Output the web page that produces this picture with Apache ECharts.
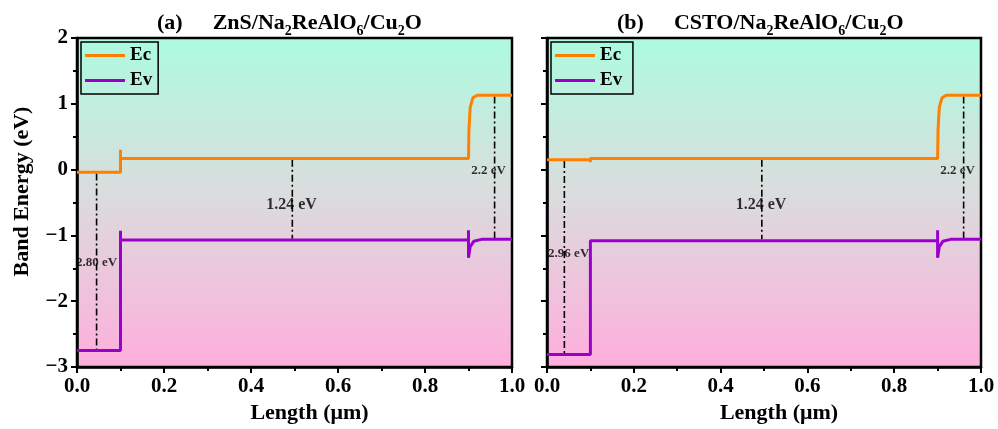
<!DOCTYPE html>
<html><head><meta charset="utf-8">
<script src="https://cdn.jsdelivr.net/npm/echarts@6/dist/echarts.min.js"></script>
<style>html,body{margin:0;padding:0;background:#fff}#c{width:998px;height:429px}</style>
</head><body><div id="c"></div>
<script>
// ---- data ----
const ecA = [[0,-0.04],[0.1,-0.04],[0.1,0.30],[0.1,0.17],[0.9,0.17],[0.901,0.6],[0.904,0.95],[0.91,1.09],[0.92,1.13],[1.0,1.13]];
const evA = [[0,-2.75],[0.1,-2.75],[0.1,-0.93],[0.1,-1.07],[0.9,-1.07],[0.9,-0.92],[0.9,-1.34],[0.904,-1.17],[0.912,-1.09],[0.93,-1.06],[1.0,-1.06]];
const ecB = [[0,0.15],[0.1,0.15],[0.1,0.11],[0.1,0.17],[0.9,0.17],[0.901,0.6],[0.904,0.95],[0.91,1.09],[0.92,1.13],[1.0,1.13]];
const evB = [[0,-2.81],[0.1,-2.81],[0.1,-1.08],[0.9,-1.08],[0.9,-0.92],[0.9,-1.34],[0.904,-1.17],[0.912,-1.09],[0.93,-1.06],[1.0,-1.06]];
// gap annotations: [x, yTop, yBottom, labelX, labelY, label]
const gapsA = [[0.045,-0.06,-2.73,0.045,-1.42,'2.80 eV'],[0.495,0.15,-1.05,0.493,-0.53,'1.24 eV'],[0.96,1.11,-1.04,0.946,-0.02,'2.2 eV']];
const gapsB = [[0.04,0.13,-2.79,0.05,-1.28,'2.96 eV'],[0.495,0.15,-1.06,0.493,-0.53,'1.24 eV'],[0.96,1.11,-1.04,0.946,-0.02,'2.2 eV']];
const xTicks = ['0.0','0.2','0.4','0.6','0.8','1.0'];
const yTicks = {'2':'2','1':'1','0':'0','-1':'\u22121','-2':'\u22122','-3':'\u22123'};

const FONT = 'Liberation Serif';
const ORANGE = '#FF8000', PURPLE = '#9A00CC';
const bg = {type:'linear',x:0,y:0,x2:0,y2:1,colorStops:[
  {offset:0,color:'#ACFBE0'},{offset:0.45,color:'#D9DEDD'},{offset:1,color:'#FFAEDC'}]};

function xAxis(i){return {type:'value',gridIndex:i,min:0,max:1,interval:0.2,
  axisLine:{show:true,onZero:false,lineStyle:{color:'#000',width:2.5}},
  axisTick:{show:true,length:6,lineStyle:{color:'#000',width:2}},
  minorTick:{show:true,splitNumber:2,length:4,lineStyle:{color:'#000',width:2}},
  splitLine:{show:false},
  axisLabel:{color:'#000',fontFamily:FONT,fontWeight:'bold',fontSize:21,margin:9,formatter:v=>xTicks[Math.round(v*5)]},
  name:'Length (\u03bcm)',nameLocation:'middle',nameGap:35,
  nameTextStyle:{color:'#000',fontFamily:FONT,fontWeight:'bold',fontSize:22,padding:[0,0,0,30]}};}
function yAxis(i,labels){return {type:'value',gridIndex:i,min:-3,max:2,interval:1,
  axisLine:{show:true,onZero:false,lineStyle:{color:'#000',width:2.5}},
  axisTick:{show:true,length:6,lineStyle:{color:'#000',width:2}},
  minorTick:{show:true,splitNumber:2,length:4,lineStyle:{color:'#000',width:2}},
  splitLine:{show:false},
  axisLabel:{show:labels,color:'#000',fontFamily:FONT,fontWeight:'bold',fontSize:21,margin:9,formatter:v=>yTicks[String(Math.round(v))]},
  name:labels?'Band Energy (eV)':'',nameLocation:'middle',nameGap:44,
  nameTextStyle:{color:'#000',fontFamily:FONT,fontWeight:'bold',fontSize:22,padding:[0,0,0,22]}};}

function lineSeries(name,data,color,i){return {type:'line',name,data,xAxisIndex:i,yAxisIndex:i,
  showSymbol:false,symbol:'none',lineStyle:{color,width:3},itemStyle:{color},z:5,animation:false};}

function gapSeries(gaps,i){
  const out=[];
  gaps.forEach(g=>{
    out.push({type:'line',data:[[g[0],g[1]],[g[0],g[2]]],xAxisIndex:i,yAxisIndex:i,symbol:'none',
      lineStyle:{color:'#000',width:1.6,type:[7,3,2,3]},z:3,animation:false,silent:true});
  });
  out.push({type:'scatter',xAxisIndex:i,yAxisIndex:i,symbolSize:0,z:6,animation:false,
    data:gaps.map(g=>({value:[g[3],g[4]],label:{show:true,position:'inside',formatter:g[5],
      fontFamily:FONT,fontWeight:'bold',fontSize:g[5]==='1.24 eV'?16:13,color:'#000'}}))});
  return out;
}

const rich = {n:{fontFamily:FONT,fontWeight:'bold',fontSize:22,color:'#000'},
  s:{fontFamily:FONT,fontWeight:'bold',fontSize:14,color:'#000',padding:[16,0,0,0]}};

const chart = echarts.init(document.getElementById('c'),null,{renderer:'canvas'});
chart.setOption({
  animation:false,
  title:[
    {left:152,top:3,text:'{n|(a)}      {n|ZnS/Na}{s|2}{n|ReAlO}{s|6}{n|/Cu}{s|2}{n|O}',textStyle:{rich}},
    {left:612,top:3,text:'{n|(b)}      {n|CSTO/Na}{s|2}{n|ReAlO}{s|6}{n|/Cu}{s|2}{n|O}',textStyle:{rich}}
  ],
  grid:[
    {left:77,right:486,top:38,bottom:56,show:true,backgroundColor:bg,borderColor:'#000',borderWidth:2.5},
    {left:547,right:17,top:38,bottom:56,show:true,backgroundColor:bg,borderColor:'#000',borderWidth:2.5}
  ],
  legend:[
    {data:['Ec','Ev'],orient:'vertical',left:81,top:42,itemWidth:40,itemHeight:3,itemGap:6,
     padding:[4,6,4,4],borderColor:'#000',borderWidth:1.5,icon:'rect',
     textStyle:{fontFamily:FONT,fontWeight:'bold',fontSize:19,color:'#000'}},
    {data:['Ec ','Ev '],orient:'vertical',left:551,top:42,itemWidth:40,itemHeight:3,itemGap:6,
     padding:[4,6,4,4],borderColor:'#000',borderWidth:1.5,icon:'rect',
     textStyle:{fontFamily:FONT,fontWeight:'bold',fontSize:19,color:'#000'}}
  ],
  xAxis:[xAxis(0),xAxis(1)],
  yAxis:[yAxis(0,true),yAxis(1,false)],
  series:[
    lineSeries('Ec',ecA,ORANGE,0),lineSeries('Ev',evA,PURPLE,0),
    lineSeries('Ec ',ecB,ORANGE,1),lineSeries('Ev ',evB,PURPLE,1),
    ...gapSeries(gapsA,0),...gapSeries(gapsB,1)
  ]
});
</script></body></html>
